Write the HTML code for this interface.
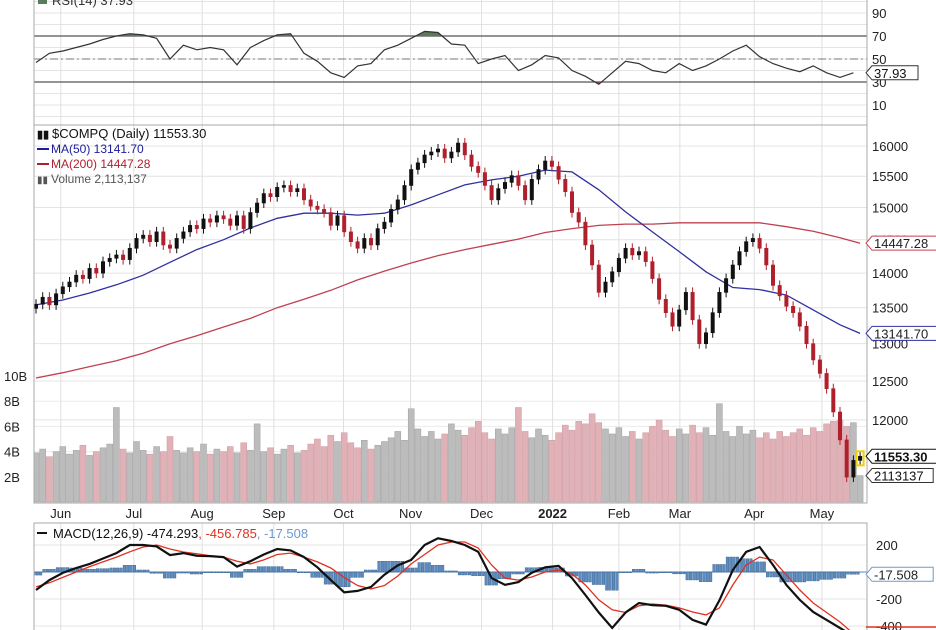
<!DOCTYPE html>
<html><head><meta charset="utf-8"><style>
html,body{margin:0;padding:0;background:#fff;}
svg{display:block;font-family:"Liberation Sans",sans-serif;}
</style></head><body>
<svg id="chart" width="936" height="630" viewBox="0 0 936 630" xmlns="http://www.w3.org/2000/svg">
<defs>
<clipPath id="cMain"><rect x="34" y="125" width="833" height="378"/></clipPath>
<clipPath id="cMacd"><rect x="34" y="523" width="833" height="107"/></clipPath>
<clipPath id="cRsiHi"><rect x="34" y="0" width="833" height="36"/></clipPath>
<clipPath id="cRsiLo"><rect x="34" y="82" width="833" height="43"/></clipPath>
</defs>
<g id="grid"></g>
<g id="vol" clip-path="url(#cMain)"></g>
<g id="ma" clip-path="url(#cMain)"></g>
<g id="candles" clip-path="url(#cMain)"></g>
<g id="rsi"></g>
<g id="macd" clip-path="url(#cMacd)"></g>
<g id="axes"></g>
<g id="labels">
<text x="52" y="5" font-size="13" fill="#333">RSI(14) 37.93</text>
<rect x="38" y="-4" width="9" height="8" fill="#5a7a5a"/>
<text x="52" y="138" font-size="13" fill="#111">$COMPQ (Daily) 11553.30</text>
<text x="37" y="138" font-size="11" font-weight="bold" fill="#111">▮▮</text>
<line x1="37" y1="149" x2="49" y2="149" stroke="#1c1c9c" stroke-width="2"/>
<text x="51" y="153" font-size="12" fill="#1c1c9c">MA(50) 13141.70</text>
<line x1="37" y1="164" x2="49" y2="164" stroke="#b02030" stroke-width="2"/>
<text x="51" y="168" font-size="12" fill="#b02030">MA(200) 14447.28</text>
<text x="37" y="183" font-size="10" fill="#555">▮▮</text>
<text x="51" y="183" font-size="12" fill="#555">Volume 2,113,137</text>
<line x1="37" y1="533" x2="47" y2="533" stroke="#111" stroke-width="2"/>
<text x="53" y="538" font-size="13" fill="#111">MACD(12,26,9) -474.293<tspan fill="#e03020">, -456.785</tspan><tspan fill="#6a9ad0">, -17.508</tspan></text>
</g>
</svg>
<script>
const closes=[13550,13650,13540,13700,13800,13870,13970,13920,14070,14000,14170,14220,14270,14200,14370,14520,14570,14470,14620,14420,14370,14520,14620,14720,14670,14820,14770,14870,14820,14720,14870,14670,14920,15070,15220,15170,15320,15350,15250,15300,15120,15020,14970,14920,14720,14870,14620,14470,14370,14520,14420,14670,14770,14970,15120,15350,15610,15720,15850,15900,15950,15800,15900,16050,15850,15660,15560,15350,15120,15300,15400,15510,15350,15120,15450,15610,15750,15660,15450,15250,14920,14770,14420,14120,13720,13870,14020,14220,14370,14270,14320,14170,13920,13620,13430,13240,13470,13720,13330,13000,13150,13430,13720,13920,14120,14320,14470,14520,14370,14120,13820,13670,13520,13430,13240,13000,12780,12600,12400,12100,11750,11300,11500,11550];
const volumes=[3.9,4.2,3.6,4.0,4.4,3.8,4.1,4.5,3.7,4.0,4.3,4.6,7.5,4.2,3.9,4.8,4.1,3.8,4.4,4.0,5.2,4.1,3.9,4.3,4.0,4.6,3.8,4.2,4.0,4.4,3.9,4.7,4.1,6.2,4.0,4.3,3.8,4.2,4.5,3.9,4.1,4.6,5.0,4.4,5.3,4.8,5.5,4.7,4.3,4.9,4.2,4.5,4.8,5.1,5.6,4.9,7.4,5.8,5.2,5.6,5.0,5.4,6.2,5.7,5.3,5.9,6.4,5.5,5.0,5.8,5.4,5.9,7.5,5.6,5.1,5.8,5.3,4.9,5.5,6.1,5.7,6.4,6.2,7.0,6.3,5.8,5.4,5.9,5.2,5.6,5.0,5.5,6.0,6.5,5.7,5.2,5.8,5.4,6.1,5.5,5.9,5.3,7.8,5.6,5.2,6.0,5.4,5.7,5.1,5.5,5.0,5.6,5.2,5.5,5.8,5.3,5.9,5.6,6.2,6.4,6.5,6.0,6.3,2.1];
const maIdx=[0,4,8,12,16,20,24,28,32,36,40,44,48,52,56,60,64,68,72,76,80,84,88,92,96,100,104,108,112,116,120,123];
const ma50=[13540,13610,13710,13830,13970,14160,14350,14500,14680,14830,14910,14910,14880,14910,15040,15200,15360,15440,15500,15600,15570,15280,14930,14620,14320,14020,13790,13760,13680,13470,13260,13141.7];
const ma200=[12540,12610,12690,12770,12870,13000,13110,13230,13350,13500,13620,13750,13900,14030,14150,14260,14350,14430,14510,14610,14670,14720,14740,14740,14760,14760,14760,14760,14700,14630,14530,14447.28];
const rsiVals=[47,55,57,60,63,67,70,72,71,68,50,62,58,60,58,45,60,66,71,72,55,48,38,34,44,46,58,62,68,74,73,63,62,46,50,53,40,45,53,51,40,35,28,38,48,46,40,38,46,40,44,50,57,62,52,46,42,39,44,38,34,38];
const macdVals=[-133,-60,-7,30,60,100,140,200,200,190,125,140,120,118,110,40,80,130,170,160,110,35,-60,-150,-140,-110,-20,50,90,200,250,230,200,150,-45,-95,-75,-5,35,45,-45,-170,-300,-415,-300,-230,-245,-250,-280,-355,-390,-210,15,150,185,52,-96,-207,-296,-355,-415,-474];
const signalVals=[-110,-80,-40,0,40,75,110,150,185,200,170,148,135,120,110,80,60,90,130,140,110,75,30,-40,-100,-125,-100,-30,60,130,200,222,222,178,52,-45,-60,-37,0,15,-15,-96,-207,-280,-300,-250,-237,-245,-266,-296,-318,-266,-96,52,110,89,-22,-133,-230,-300,-370,-457];
const priceTicks=[16000,15500,15000,14500,14000,13500,13000,12500,12000];
const volTicks=[2,4,6,8,10];
const rsiTicks=[90,70,50,30,10];
const macdTicks=[200,0,-200,-400];
const months=["Jun","Jul","Aug","Sep","Oct","Nov","Dec","2022","Feb","Mar","Apr","May"];
const monthIdx=[3.7,14.6,24.8,35.5,45.9,55.9,66.5,77.1,87,96.1,107.2,117.3];

const NS="http://www.w3.org/2000/svg";
const X0=34,X1=867;
function xi(i){return 36+i*6.7;}
function py(p){return 146+952*Math.log(16000/p);}
function vy(v){return 502-v*12.6;}
function ry(v){return 59-(v-50)*1.15;}
function my(v){return 572-v*0.135;}
function mk(tag,attrs,parent){const e=document.createElementNS(NS,tag);for(const k in attrs)e.setAttribute(k,attrs[k]);parent.appendChild(e);return e;}
const G=id=>document.getElementById(id);
const grid=G('grid'),vol=G('vol'),ma=G('ma'),cd=G('candles'),rsi=G('rsi'),macd=G('macd'),axes=G('axes');

let e;
e=mk('rect',{x:X0,y:-2,width:X1-X0,height:127,fill:'none',stroke:'#aaa'},axes);

e=mk('rect',{x:X0,y:125,width:X1-X0,height:378,fill:'none',stroke:'#aaa'},axes);

e=mk('rect',{x:X0,y:523,width:X1-X0,height:110,fill:'none',stroke:'#aaa'},axes);


for(let v=0;v<=100;v+=10){const y=ry(v);e=mk('line',{x1:X0,x2:X1,y1:y,y2:y,stroke:'#e4e4e4'},grid);
}
rsiTicks.forEach(v=>{e=mk('text',{x:872,y:ry(v)+5,'font-size':13,fill:'#222'},axes);e.textContent=v;
});
[70,30].forEach(v=>{e=mk('line',{x1:X0,x2:X1,y1:ry(v),y2:ry(v),stroke:'#555','stroke-width':1.2},rsi);
});
e=mk('line',{x1:X0,x2:X1,y1:ry(50),y2:ry(50),stroke:'#777','stroke-dasharray':'8,3,2,3'},rsi);

priceTicks.forEach(p=>{const y=py(p);e=mk('line',{x1:X0,x2:X1,y1:y,y2:y,stroke:'#e4e4e4'},grid);

e=mk('text',{x:872,y:y+5,'font-size':13,fill:'#222'},axes);e.textContent=p;
});
volTicks.forEach(v=>{const y=vy(v);e=mk('line',{x1:X0,x2:X1,y1:y,y2:y,stroke:'#ececec'},grid);

e=mk('text',{x:4,y:y+5,'font-size':13,fill:'#222'},axes);e.textContent=v+'B';
});
macdTicks.forEach(v=>{const y=my(v);if(v!==0){e=mk('line',{x1:X0,x2:X1,y1:y,y2:y,stroke:'#e4e4e4'},grid);

e=mk('text',{x:876,y:y+5,'font-size':13,fill:'#222'},axes);e.textContent=v;
}});
months.forEach((m,k)=>{const x=xi(monthIdx[k]);
[[-2,125],[125,503],[523,630]].forEach(r=>{e=mk('line',{x1:x,x2:x,y1:r[0],y2:r[1],stroke:'#e0e0e0'},grid);
});
e=mk('text',{x:x,y:518,'font-size':13,'text-anchor':'middle',fill:'#222','font-weight':m==='2022'?'bold':'normal'},axes);e.textContent=m;
});

volumes.forEach((v,i)=>{const up=i===0||closes[i]>=closes[i-1];const y=vy(v);
e=mk('rect',{x:xi(i)-3,y:y,width:6,height:502-y,fill:up?'#bcbcbc':'#e0b2b7',stroke:up?'#a0a0a0':'#cc98a0','stroke-width':0.5},vol);
});

function line(arr,idx,f,color,w,parent,name){const pts=arr.map((v,k)=>xi(idx[k]).toFixed(1)+','+f(v).toFixed(1)).join(' ');
const l=mk('polyline',{points:pts,fill:'none',stroke:color,'stroke-width':w},parent);
return l;}
line(ma200,maIdx,py,'#c04050',1.3,ma,'ma200-line');
line(ma50,maIdx,py,'#3030a0',1.3,ma,'ma50-line');

closes.forEach((c,i)=>{const o=i===0?c-60:closes[i-1];const up=c>=o;const col=up?'#111':'#b0202c';
const top=py(Math.max(o,c)),bot=py(Math.min(o,c));const x=xi(i);
e=mk('line',{x1:x,x2:x,y1:top-5,y2:bot+5,stroke:col,'stroke-width':1},cd);

e=mk('rect',{x:x-1.7,y:top,width:3.4,height:Math.max(1,bot-top),fill:col,stroke:col,'stroke-width':0.6},cd);
});
const li=closes.length-1;
e=mk('rect',{x:xi(li)-3.5,y:py(Math.max(closes[li],closes[li-1]))-5,width:7,height:Math.abs(py(closes[li])-py(closes[li-1]))+10,fill:'none',stroke:'#f0d000','stroke-width':2},cd);


const rx=j=>xi(j*2);
const rpts=rsiVals.map((v,j)=>rx(j).toFixed(1)+','+ry(v).toFixed(1));
const rlast=rx(rsiVals.length-1);
e=mk('polygon',{points:rx(0)+','+ry(70)+' '+rpts.join(' ')+' '+rlast+','+ry(70),fill:'#5a7a5a','clip-path':'url(#cRsiHi)'},rsi);

e=mk('polygon',{points:rx(0)+','+ry(30)+' '+rpts.join(' ')+' '+rlast+','+ry(30),fill:'#a04040','clip-path':'url(#cRsiLo)'},rsi);

e=mk('polyline',{points:rpts.join(' '),fill:'none',stroke:'#333','stroke-width':1.2},rsi);


e=mk('line',{x1:X0,x2:X1,y1:my(0),y2:my(0),stroke:'#5a86b8','stroke-width':1},macd);

macdVals.forEach((m,j)=>{const h=m-signalVals[j];const y0=my(0),y1=my(h);
for(let d=0;d<4;d++){e=mk('rect',{x:rx(j)-6.7+d*3.35,y:Math.min(y0,y1),width:2.6,height:Math.max(0.8,Math.abs(y1-y0)),fill:'#5d8cc0',stroke:'#2f5a88','stroke-width':0.4},macd);
}});
e=mk('polyline',{points:signalVals.map((v,j)=>rx(j).toFixed(1)+','+my(v).toFixed(1)).join(' '),fill:'none',stroke:'#e03020','stroke-width':1.3},macd);

e=mk('polyline',{points:macdVals.map((v,j)=>rx(j).toFixed(1)+','+my(v).toFixed(1)).join(' '),fill:'none',stroke:'#111','stroke-width':2.2},macd);


function flag(y,txt,border,color,bold,name){const w=txt.length*7.6+8;
const p=mk('polygon',{points:`866,${y} 872,${y-7} ${872+w},${y-7} ${872+w},${y+7} 872,${y+7}`,fill:'#fff',stroke:border,'stroke-width':1},axes);

const t=mk('text',{x:874,y:y+5,'font-size':13,fill:color,'font-weight':bold?'bold':'normal'},axes);t.textContent=txt;
}
flag(ry(rsiVals[rsiVals.length-1]),'37.93','#333','#111',false,'rsi-value-flag');
flag(py(ma200[ma200.length-1]),'14447.28','#c04050','#222',false,'ma200-value-flag');
flag(py(ma50[ma50.length-1]),'13141.70','#3030a0','#222',false,'ma50-value-flag');
flag(py(closes[li]),'11553.30','#111','#111',true,'price-value-flag');
flag(vy(volumes[li]),'2113137','#333','#111',false,'volume-value-flag');
flag(my(macdVals[macdVals.length-1]-signalVals[signalVals.length-1]),'-17.508','#6a9ad0','#222',false,'macd-hist-value-flag');
e=mk('line',{x1:866,x2:936,y1:627,y2:627,stroke:'#e03020','stroke-width':1.5},axes);

</script>
</body></html>
